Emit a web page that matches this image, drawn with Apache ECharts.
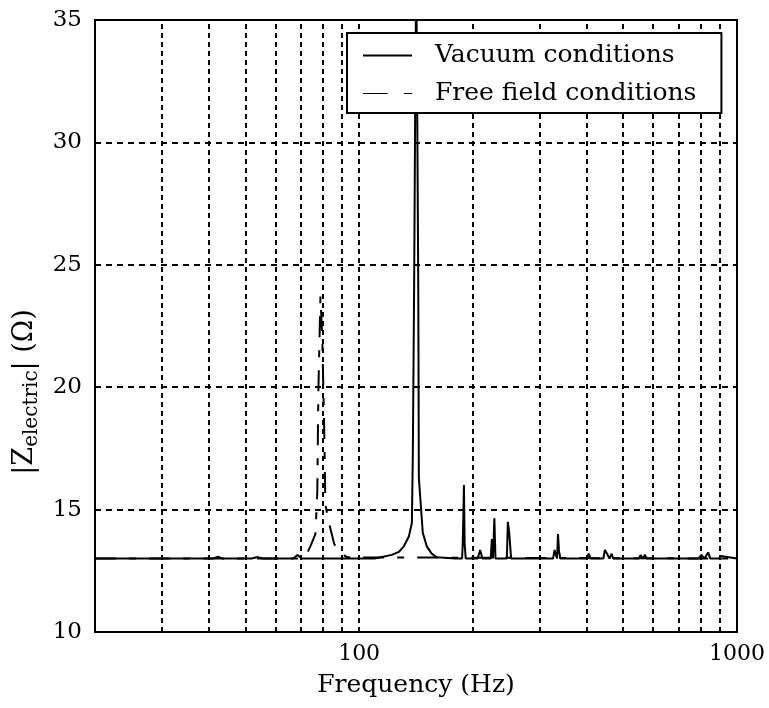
<!DOCTYPE html>
<html>
<head>
<meta charset="utf-8">
<style>
  html, body { margin: 0; padding: 0; background: #fff; }
  #chart { width: 769px; height: 708px; }
</style>
<script src="https://cdn.jsdelivr.net/npm/echarts/dist/echarts.min.js"></script>
</head>
<body>
<div id="chart"></div>
<script>
// vacuum conditions (solid) - frequency in Hz, |Z| in ohm
const vacFreq = [
  20, 41, 42.3, 43.5, 52, 53.9, 55.5, 67, 68.7, 70.5, 110,
  122, 127.4, 131.3, 135.4, 137.9, 138.7, 139.8, 140.8, 141.6, 142.4, 143.4, 143.9,
  147.4, 151, 155.6, 160.5, 180, 187.3, 188, 188.8, 189.4, 190.2, 191.5,
  206, 209, 212, 223, 224.5, 226, 228, 229.5, 231, 246, 247.5, 249.5, 251, 252.5, 254,
  326, 329, 331, 334, 336, 338, 341, 400, 405, 410, 443, 447, 451, 455, 460, 466, 470,
  550, 556, 562, 566, 571, 576, 790, 805, 820, 839, 850, 895, 905, 915, 1000,
];
const vacZ = [
  13.0, 13.0, 13.08, 13.0, 13.0, 13.06, 13.0, 13.0, 13.15, 13.0, 13.0,
  13.15, 13.27, 13.5, 13.9, 14.45, 17.2, 24.0, 32.0, 37.0, 32.0, 24.0, 16.3,
  14.05, 13.5, 13.2, 13.05, 13.0, 13.0, 13.6, 14.9, 16.0, 13.6, 13.0,
  13.0, 13.35, 13.0, 13.0, 13.8, 13.0, 14.65, 13.0, 13.0, 13.0, 14.5, 14.08, 14.08, 13.0, 13.0,
  13.0, 13.35, 13.3, 13.0, 14.0, 13.3, 13.0, 13.0, 13.2, 13.0, 13.0, 13.35, 13.25, 13.3, 13.0, 13.2, 13.0,
  13.0, 13.15, 13.0, 13.0, 13.15, 13.0, 13.0, 13.15, 13.0, 13.25, 13.0, 13.0, 13.1, 13.1, 13.0,
];

// free field conditions (dashed)
const ffFreq = [20, 70, 72.5, 74.3, 76.6, 77.5, 78.0, 79.0, 79.9, 80.9, 81.4, 83.4, 85.9, 89, 93, 1000];
const ffZ = [13.0, 13.0, 13.15, 13.5, 14.0, 15.7, 19.8, 23.7, 22.0, 18.0, 15.2, 14.4, 13.6, 13.25, 13.05, 13.0];

// vertical grid lines on the log axis and the labelled ticks
const xGridLines = [30, 40, 50, 60, 70, 80, 90, 100, 200, 300, 400, 500, 600, 700, 800, 900];
const xLabelTicks = [100, 1000];
const yTicks = [10, 15, 20, 25, 30, 35];

const seriesNames = ["Vacuum conditions", "Free field conditions"];

const toPairs = (xs, ys) => xs.map((x, i) => [x, ys[i]]);

const chart = echarts.init(document.getElementById("chart"));
const serif = "DejaVu Serif";

chart.setOption({
  animation: false,
  backgroundColor: "#fff",
  grid: {
    left: 95,
    right: 32,
    top: 20,
    bottom: 76,
    show: true,
    borderColor: "#000",
    borderWidth: 2,
    backgroundColor: "transparent",
  },
  legend: {
    orient: "vertical",
    left: 347,
    top: 33,
    z: 20,
    padding: [10, 25, 7, 16],
    itemGap: 13,
    itemWidth: 49,
    itemHeight: 2,
    backgroundColor: "#fff",
    borderColor: "#000",
    borderWidth: 2,
    borderRadius: 0,
    textStyle: {
      fontFamily: serif,
      fontSize: 25,
      color: "#000",
      padding: [0, 0, 0, 18],
    },
    data: [
      { name: seriesNames[0], icon: "rect" },
      { name: seriesNames[1], icon: "path://M0,0H21V1H0Z M35,0H42V1H35Z" },
    ],
  },
  xAxis: {
    type: "log",
    logBase: 10,
    min: 20,
    max: 1000,
    name: "Frequency (Hz)",
    nameLocation: "middle",
    nameGap: 41,
    nameTextStyle: { fontFamily: serif, fontSize: 25, color: "#000" },
    axisLine: { show: true, lineStyle: { color: "#000", width: 2 } },
    axisTick: { show: false },
    splitLine: { show: false },
    axisLabel: {
      margin: 11,
      fontFamily: serif,
      fontSize: 22,
      color: "#000",
      showMinLabel: true,
      showMaxLabel: true,
      formatter: (v) => (xLabelTicks.includes(Math.round(v)) ? String(Math.round(v)) : ""),
    },
  },
  yAxis: {
    type: "value",
    min: yTicks[0],
    max: yTicks[yTicks.length - 1],
    interval: 5,
    name: "|Z{sub|electric}| (Ω)",
    nameLocation: "middle",
    nameRotate: 90,
    nameGap: 52,
    nameTextStyle: {
      fontFamily: serif,
      fontSize: 27,
      color: "#000",
      padding: [0, 132, 0, 0],
      rich: {
        sub: {
          fontFamily: serif,
          fontSize: 20,
          color: "#000",
          verticalAlign: "bottom",
          padding: [14, 0, 0, 0],
        },
      },
    },
    axisLine: { show: true, lineStyle: { color: "#000", width: 2 } },
    axisTick: { show: false },
    splitLine: { show: true, lineStyle: { color: "#000", width: 2, type: [6, 5] } },
    axisLabel: { margin: 13, fontFamily: serif, fontSize: 23, color: "#000" },
  },
  series: [
    {
      name: seriesNames[1],
      type: "line",
      data: toPairs(ffFreq, ffZ),
      symbol: "none",
      lineStyle: { color: "#000", width: 2, type: [21, 13, 7, 13] },
      itemStyle: { color: "#000" },
      markLine: {
        silent: true,
        symbol: ["none", "none"],
        label: { show: false },
        lineStyle: { color: "#000", width: 2, type: [5, 4] },
        data: xGridLines.map((v) => ({ xAxis: v })),
      },
    },
    {
      name: seriesNames[0],
      type: "line",
      data: toPairs(vacFreq, vacZ),
      symbol: "none",
      lineStyle: { color: "#000", width: 2, type: "solid" },
      itemStyle: { color: "#000" },
    },
  ],
});
</script>
</body>
</html>
